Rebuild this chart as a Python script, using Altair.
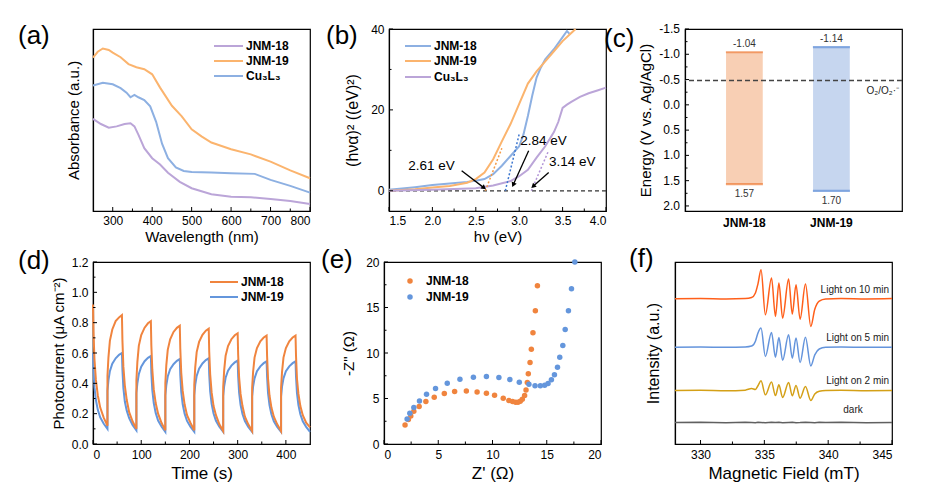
import altair as alt
import pandas as pd

FONT = "Liberation Sans"
W, H = 217, 182
ONE = pd.DataFrame({"k": [0]})

# ---------------- (a) UV-vis absorbance ----------------
a18_wl = [250, 270, 290, 310, 330, 345, 355, 365, 380, 400, 420, 440, 470, 500, 550, 600, 650, 700, 750, 800]
a18_v = [0.506, 0.478, 0.458, 0.465, 0.478, 0.482, 0.465, 0.42, 0.345, 0.29, 0.255, 0.21, 0.16, 0.125, 0.092, 0.078, 0.075, 0.066, 0.055, 0.039]
a19_wl = [250, 262, 275, 290, 300, 320, 340, 360, 380, 400, 420, 450, 475, 500, 525, 550, 600, 650, 700, 750, 800]
a19_v = [0.843, 0.875, 0.893, 0.885, 0.87, 0.845, 0.807, 0.79, 0.779, 0.751, 0.678, 0.578, 0.52, 0.449, 0.41, 0.376, 0.339, 0.311, 0.271, 0.223, 0.18]
acu_wl = [250, 275, 300, 320, 335, 345, 355, 365, 380, 395, 410, 425, 440, 460, 480, 500, 550, 600, 660, 700, 750, 800]
acu_v = [0.69, 0.705, 0.696, 0.675, 0.65, 0.625, 0.638, 0.625, 0.61, 0.575, 0.49, 0.37, 0.29, 0.24, 0.22, 0.214, 0.211, 0.208, 0.204, 0.171, 0.138, 0.101]
a_major = [300, 400, 500, 600, 700, 800]
a_minor = [350, 450, 550, 650, 750]

# ---------------- (b) Tauc plot ----------------
b18_ev = [1.5, 1.8, 2.0, 2.2, 2.4, 2.5, 2.6, 2.7, 2.8, 2.9, 3.0, 3.05, 3.1, 3.15, 3.2, 3.25, 3.3, 3.4, 3.5, 3.55, 3.58]
b18_v = [0.25, 0.9, 1.4, 1.8, 2.2, 2.5, 2.9, 4.1, 6.2, 8.6, 11.0, 14.0, 18.5, 23.5, 28.0, 30.5, 32.5, 35.0, 38.0, 39.5, 38.8]
b19_ev = [1.5, 1.8, 2.0, 2.2, 2.4, 2.5, 2.6, 2.7, 2.8, 2.9, 3.0, 3.1, 3.2, 3.3, 3.4, 3.5, 3.6, 3.65]
b19_v = [0.0, 0.4, 0.8, 1.2, 2.0, 2.9, 4.5, 7.8, 12.2, 16.5, 21.5, 26.5, 29.5, 32.0, 34.5, 37.0, 39.0, 40.0]
bcu_ev = [1.5, 2.0, 2.5, 2.7, 2.9, 3.0, 3.1, 3.2, 3.3, 3.4, 3.45, 3.5, 3.55, 3.6, 3.7, 3.8, 3.9, 4.0]
bcu_v = [0.0, 0.25, 0.6, 1.3, 2.4, 3.6, 5.2, 8.2, 11.0, 14.5, 17.0, 20.5, 21.3, 22.0, 23.2, 24.1, 24.8, 25.5]
gaps = [2.61, 2.84, 3.14]
b_xmajor = [1.5, 2.0, 2.5, 3.0, 3.5, 4.0]
b_xminor = [1.75, 2.25, 2.75, 3.25, 3.75]
b_ymajor = [0, 20, 40]
b_yminor = [10, 30]

# ---------------- (c) band positions ----------------
samples = ["JNM-18", "JNM-19"]
cb = [-1.04, -1.14]
vb = [1.57, 1.70]
o2_level = -0.48
c_ymajor = [-1.5, -1.0, -0.5, 0.0, 0.5, 1.0, 1.5, 2.0]
c_yminor = [-1.25, -0.75, -0.25, 0.25, 0.75, 1.25, 1.75]

# ---------------- (d) photocurrent ----------------
time_d = [
    0, 1, 3, 6, 10, 15, 22, 30, 30, 32, 35, 40, 47, 54,
    60, 61, 63, 66, 70, 75, 82, 90, 90, 92, 95, 100, 107, 114,
    120, 121, 123, 126, 130, 135, 142, 150, 150, 152, 155, 160, 167, 174,
    180, 181, 183, 186, 190, 195, 202, 210, 210, 212, 215, 220, 227, 234,
    240, 241, 243, 246, 250, 255, 262, 270, 270, 272, 275, 280, 287, 294,
    300, 301, 303, 306, 310, 315, 322, 330, 330, 332, 335, 340, 347, 354,
    360, 361, 363, 366, 370, 375, 382, 390, 390, 392, 395, 400, 407, 414,
    420, 421, 423, 426, 430, 435, 442, 450]
cur18 = [
    0.92, 0.744, 0.56, 0.424, 0.32, 0.24, 0.176, 0.12, 0.45, 0.57, 0.68, 0.755, 0.81, 0.835,
    0.85, 0.685, 0.51, 0.385, 0.29, 0.21, 0.15, 0.10, 0.42, 0.54, 0.647, 0.718, 0.767, 0.796,
    0.81, 0.65, 0.49, 0.36, 0.27, 0.20, 0.14, 0.09, 0.40, 0.518, 0.621, 0.69, 0.739, 0.766,
    0.78, 0.63, 0.47, 0.35, 0.26, 0.19, 0.14, 0.09, 0.39, 0.505, 0.606, 0.673, 0.72, 0.747,
    0.76, 0.61, 0.46, 0.34, 0.25, 0.19, 0.13, 0.085, 0.375, 0.485, 0.582, 0.646, 0.691, 0.717,
    0.73, 0.59, 0.44, 0.33, 0.25, 0.18, 0.13, 0.085, 0.37, 0.475, 0.57, 0.633, 0.677, 0.702,
    0.715, 0.58, 0.43, 0.32, 0.24, 0.18, 0.13, 0.085, 0.37, 0.475, 0.57, 0.633, 0.677, 0.702,
    0.715, 0.58, 0.43, 0.33, 0.25, 0.19, 0.14, 0.11]
cur19 = [
    0.60, 0.49, 0.375, 0.29, 0.225, 0.175, 0.135, 0.10, 0.35, 0.42, 0.48, 0.53, 0.565, 0.588,
    0.60, 0.49, 0.37, 0.28, 0.22, 0.17, 0.125, 0.09, 0.335, 0.40, 0.46, 0.51, 0.546, 0.568,
    0.58, 0.47, 0.355, 0.27, 0.205, 0.155, 0.115, 0.08, 0.32, 0.387, 0.445, 0.493, 0.526, 0.548,
    0.56, 0.454, 0.344, 0.262, 0.20, 0.152, 0.114, 0.08, 0.32, 0.39, 0.449, 0.497, 0.531, 0.553,
    0.565, 0.458, 0.347, 0.264, 0.201, 0.153, 0.114, 0.08, 0.315, 0.381, 0.437, 0.484, 0.517, 0.538,
    0.55, 0.447, 0.339, 0.259, 0.198, 0.151, 0.113, 0.08, 0.313, 0.378, 0.433, 0.48, 0.512, 0.533,
    0.545, 0.443, 0.336, 0.257, 0.196, 0.15, 0.113, 0.08, 0.313, 0.378, 0.433, 0.48, 0.512, 0.533,
    0.545, 0.443, 0.336, 0.257, 0.196, 0.15, 0.113, 0.08]
d_xmajor = [0, 100, 200, 300, 400]
d_xminor = [50, 150, 250, 350]
d_ymajor = [0.0, 0.2, 0.4, 0.6, 0.8, 1.0, 1.2]
d_yminor = [0.1, 0.3, 0.5, 0.7, 0.9, 1.1]

# ---------------- (e) Nyquist ----------------
z18_re = [1.94, 2.25, 2.47, 2.75, 3.24, 3.86, 4.63, 5.56, 6.51, 7.59, 8.58, 9.44, 10.19, 10.99, 11.51, 11.85, 12.13, 12.35, 12.56, 12.75, 12.96, 13.09, 13.21, 13.30, 13.46, 13.58, 13.73, 13.95, 14.14]
z18_im = [2.09, 2.7, 3.08, 3.6, 4.11, 4.66, 5.14, 5.54, 5.76, 5.83, 5.72, 5.58, 5.36, 5.03, 4.77, 4.66, 4.59, 4.59, 4.70, 4.92, 5.32, 5.94, 6.75, 7.71, 8.95, 10.42, 12.22, 14.64, 17.39]
z19_re = [2.13, 2.38, 2.75, 3.27, 3.92, 4.75, 5.83, 7.0, 8.24, 9.44, 10.59, 11.6, 12.47, 13.36, 13.92, 14.41, 14.81, 15.12, 15.43, 15.71, 15.99, 16.2, 16.48, 16.7, 17.0, 17.28, 17.59]
z19_im = [2.75, 3.38, 4.0, 4.73, 5.47, 6.09, 6.68, 7.12, 7.34, 7.41, 7.30, 7.08, 6.79, 6.57, 6.39, 6.39, 6.46, 6.64, 7.05, 7.60, 8.44, 9.54, 10.83, 12.59, 14.64, 17.06, 20.0]
e_major = [0, 5, 10, 15, 20]
e_minor = [2.5, 7.5, 12.5, 17.5]

# ---------------- (f) EPR ----------------
epr_x = [328, 330, 332, 333.5, 334.0, 334.3, 334.5, 334.74, 335.08, 335.56, 335.87, 336.14, 336.43, 336.9, 337.19, 337.48, 337.8, 338.22, 338.64, 338.95, 339.3, 339.8, 341, 343, 345]
epr10 = [0.798, 0.799, 0.797, 0.799, 0.805, 0.83, 0.88, 0.958, 0.710, 0.912, 0.701, 0.884, 0.692, 0.906, 0.714, 0.875, 0.686, 0.879, 0.646, 0.74, 0.785, 0.797, 0.799, 0.797, 0.799]
epr5 = [0.532, 0.533, 0.531, 0.533, 0.538, 0.565, 0.61, 0.637, 0.481, 0.613, 0.477, 0.585, 0.460, 0.600, 0.471, 0.582, 0.448, 0.587, 0.429, 0.49, 0.522, 0.531, 0.533, 0.531, 0.532]
epr2 = [0.294, 0.295, 0.293, 0.296, 0.305, 0.30, 0.32, 0.347, 0.270, 0.340, 0.266, 0.325, 0.255, 0.338, 0.265, 0.322, 0.252, 0.316, 0.239, 0.275, 0.29, 0.294, 0.295, 0.293, 0.294]
eprd = [0.118, 0.120, 0.117, 0.119, 0.118, 0.117, 0.119, 0.118, 0.117, 0.119, 0.118, 0.12, 0.117, 0.118, 0.119, 0.117, 0.118, 0.12, 0.118, 0.117, 0.119, 0.118, 0.12, 0.117, 0.118]
epr_labels = ["Light on 10 min", "Light on 5 min", "Light on 2 min", "dark"]
epr_label_y = [0.848, 0.582, 0.348, 0.185]
f_major = [330, 335, 340, 345]
f_minor = [332.5, 337.5, 342.5]

# colours
PURPLE_L, ORANGE_L, BLUE_L = "#bba5d8", "#fbb46e", "#8db0e2"
ORANGE, BLUE = "#f0843e", "#6496dc"


def txt(s, x, y, size=12, weight="normal", align="left", baseline="middle", color="black"):
    return alt.Chart(ONE).mark_text(text=s, fontSize=size, fontWeight=weight, align=align,
                                    baseline=baseline, color=color, font=FONT).encode(
        x=alt.value(x), y=alt.value(y))


def lrule(x1, x2, y, color, width=2.0):
    return alt.Chart(ONE).mark_rule(color=color, strokeWidth=width).encode(
        x=alt.value(x1), x2=alt.value(x2), y=alt.value(y))


def ldot(x, y, color, size=30):
    return alt.Chart(ONE).mark_circle(color=color, size=size, opacity=1).encode(
        x=alt.value(x), y=alt.value(y))


def letter(s, x, y):
    return txt(s, x, y, size=26)


def line(xs, ys, X, Y, color, width=2.0, dash=None, interp=None, ordered=False):
    df = pd.DataFrame({"x": xs, "y": ys, "i": list(range(len(xs)))})
    kw = dict(color=color, strokeWidth=width)
    if dash:
        kw["strokeDash"] = dash
    if interp:
        kw["interpolate"] = interp
    enc = dict(x=X, y=Y)
    if ordered:
        enc["order"] = alt.Order("i:Q")
    return alt.Chart(df).mark_line(**kw).encode(**enc)


def xticks(vals, X, length):
    field = X.shorthand.split(":")[0]
    return alt.Chart(pd.DataFrame({field: vals})).mark_rule(color="black", strokeWidth=1).encode(
        x=X, y=alt.value(H), y2=alt.value(H - length))


def yticks(vals, Y, length):
    field = Y.shorthand.split(":")[0]
    return alt.Chart(pd.DataFrame({field: vals})).mark_rule(color="black", strokeWidth=1).encode(
        y=Y, x=alt.value(0), x2=alt.value(length))


MAJ, MIN = 4, 2.5
XT1 = 15    # x title size, top row
XT2 = 17    # x title size, bottom row
YT = 15     # y title size

# ---------- panel (a) ----------
Xa = alt.X("x:Q", scale=alt.Scale(domain=[250, 800], nice=False),
           axis=alt.Axis(title="Wavelength (nm)", values=a_major, format="d", labelPadding=4,
                         titleFontSize=XT1, titlePadding=3))
Ya = alt.Y("y:Q", scale=alt.Scale(domain=[0, 1], nice=False),
           axis=alt.Axis(title="Absorbance (a.u.)", labels=False, titleFontSize=YT, titlePadding=12))
pa = alt.layer(
    line(a18_wl, a18_v, Xa, Ya, PURPLE_L),
    line(a19_wl, a19_v, Xa, Ya, ORANGE_L),
    line(acu_wl, acu_v, Xa, Ya, BLUE_L),
    xticks(a_major, Xa, MAJ), xticks(a_minor, Xa, MIN),
    lrule(121, 150, 17, PURPLE_L), txt("JNM-18", 153, 17, weight="bold"),
    lrule(121, 150, 32, ORANGE_L), txt("JNM-19", 153, 32, weight="bold"),
    lrule(121, 150, 47, BLUE_L), txt("Cu₃L₃", 153, 47, weight="bold"),
    letter("(a)", -75, 7),
).properties(width=W, height=H)

# ---------- panel (b) ----------
Xb = alt.X("x:Q", scale=alt.Scale(domain=[1.5, 4.0], nice=False),
           axis=alt.Axis(title="hν (eV)", values=b_xmajor, format=".1f", labelPadding=4,
                         titleFontSize=XT1, titlePadding=3))
Yb = alt.Y("y:Q", scale=alt.Scale(domain=[-5, 40], nice=False),
           axis=alt.Axis(title="(hνα)² ((eV)²)", values=b_ymajor, format="d", titleFontSize=16, titlePadding=10))
arrows = pd.DataFrame({
    "x": [2.337, 3.109, 3.34], "y": [4.94, 9.88, 4.54],
    "x2": [2.588, 2.935, 3.167], "y2": [0.84, 1.65, 1.23],
    "a": [127.4, 204.2, 228.2]})
gap_txt = pd.DataFrame({"x": [1.99, 3.28, 3.61], "y": [6.2, 12.3, 7.0],
                        "t": [f"{g:.2f} eV" for g in gaps]})
pb = alt.layer(
    alt.Chart(ONE).mark_rule(color="#333333", strokeDash=[4, 3], strokeWidth=1.3).encode(y=alt.datum(0)),
    line(b18_ev, b18_v, Xb, Yb, BLUE_L),
    line(b19_ev, b19_v, Xb, Yb, ORANGE_L),
    line(bcu_ev, bcu_v, Xb, Yb, PURPLE_L),
    line([gaps[0], 2.80], [0, 10.5], Xb, Yb, "#f59a45", width=1.5, dash=[2, 2]),
    line([gaps[1], 3.00], [0, 14.0], Xb, Yb, "#3f78d0", width=1.5, dash=[2, 2]),
    line([gaps[2], 3.34], [0, 10.0], Xb, Yb, "#b193d6", width=1.5, dash=[2, 2]),
    alt.Chart(arrows).mark_rule(color="black", strokeWidth=1.3).encode(
        x=Xb, y=Yb, x2="x2:Q", y2="y2:Q"),
    alt.Chart(arrows).mark_point(shape="triangle", filled=True, size=30, color="black", opacity=1).encode(
        x=alt.X("x2:Q", scale=alt.Scale(domain=[1.5, 4.0], nice=False)),
        y=alt.Y("y2:Q", scale=alt.Scale(domain=[-5, 40], nice=False)),
        angle=alt.Angle("a:Q", scale=None)),
    alt.Chart(gap_txt).mark_text(fontSize=13.5, font=FONT, color="black").encode(x=Xb, y=Yb, text="t:N"),
    xticks(b_xmajor, Xb, MAJ), xticks(b_xminor, Xb, MIN),
    yticks(b_ymajor, Yb, MAJ), yticks(b_yminor, Yb, MIN),
    lrule(16, 42, 17, BLUE_L), txt("JNM-18", 45, 17, weight="bold"),
    lrule(16, 42, 32, ORANGE_L), txt("JNM-19", 45, 32, weight="bold"),
    lrule(16, 42, 48, PURPLE_L), txt("Cu₃L₃", 45, 48, weight="bold"),
    letter("(b)", -63, 7),
).properties(width=W, height=H)

# ---------- panel (c) ----------
Xc = alt.X("s:N", sort=samples, scale=alt.Scale(paddingInner=0.578, paddingOuter=0.536, align=0.44),
           axis=alt.Axis(title=None, labelAngle=0, labelFontWeight="bold", labelPadding=6))
Yc = alt.Y("e:Q", scale=alt.Scale(domain=[-1.5, 2.1], reverse=True, nice=False),
           axis=alt.Axis(title="Energy (V vs. Ag/AgCl)", labels=False, titleFontSize=YT, titlePadding=32))
bars = pd.DataFrame({"s": samples, "e": cb, "e2": vb})
edges = pd.DataFrame({"s": samples * 2, "e": cb + vb,
                      "lab": [f"{v:.2f}" for v in cb + vb],
                      "dy": [-8, -8, 10, 10]})
c_lab = pd.DataFrame({"e": c_ymajor, "lab": [f"{v:.1f}" for v in c_ymajor]})
fill_scale = alt.Scale(domain=samples, range=["#f8ccb0", "#c3d4ee"])
edge_scale = alt.Scale(domain=samples, range=["#ee7d3b", "#5b8bd5"])
pc = alt.layer(
    alt.Chart(bars).mark_bar(opacity=0.95).encode(
        x=Xc, y=Yc, y2="e2:Q", fill=alt.Fill("s:N", scale=fill_scale, legend=None)),
    alt.Chart(edges).mark_tick(orient="horizontal", thickness=2.2, size=37).encode(
        x=Xc, y=Yc, color=alt.Color("s:N", scale=edge_scale, legend=None)),
    alt.Chart(edges[edges["dy"] < 0]).mark_text(fontSize=10, font=FONT, color="#333333", dy=-8).encode(
        x=Xc, y=Yc, text="lab:N"),
    alt.Chart(edges[edges["dy"] > 0]).mark_text(fontSize=10, font=FONT, color="#333333", dy=10).encode(
        x=Xc, y=Yc, text="lab:N"),
    alt.Chart(ONE).mark_rule(color="#444444", strokeDash=[5, 3], strokeWidth=1.6).encode(y=alt.datum(o2_level)),
    alt.Chart(ONE).mark_text(text="O₂/O₂·⁻", fontSize=10, font=FONT, color="#222222", align="right", dy=10).encode(
        x=alt.value(W - 3), y=alt.datum(o2_level)),
    yticks(c_ymajor, Yc, MAJ), yticks(c_yminor, Yc, MIN),
    alt.Chart(c_lab).mark_text(fontSize=12, font=FONT, color="black", align="right", baseline="middle").encode(
        x=alt.value(-5), y=Yc, text="lab:N"),
    letter("(c)", -81, 10),
).resolve_scale(fill="independent", color="independent").properties(width=W, height=H)

# ---------- panel (d) ----------
Xd = alt.X("x:Q", scale=alt.Scale(domain=[0, 450], nice=False),
           axis=alt.Axis(title="Time  (s)", values=d_xmajor, format="d",
                         titleFontSize=XT2, titlePadding=5))
Yd = alt.Y("y:Q", scale=alt.Scale(domain=[0, 1.2], nice=False),
           axis=alt.Axis(title="Photocurrent (μA cm⁻²)", values=d_ymajor, format=".1f",
                         titleFontSize=YT, titlePadding=5))
pd_ = alt.layer(
    line(time_d, cur19, Xd, Yd, BLUE, ordered=True),
    line(time_d, cur18, Xd, Yd, ORANGE, ordered=True),
    xticks(d_xmajor, Xd, MAJ), xticks(d_xminor, Xd, MIN),
    yticks(d_ymajor, Yd, MAJ), yticks(d_yminor, Yd, MIN),
    lrule(117, 145, 20, ORANGE), txt("JNM-18", 148, 20, weight="bold"),
    lrule(117, 145, 35, BLUE), txt("JNM-19", 148, 35, weight="bold"),
    letter("(d)", -75, -1),
).properties(width=W, height=H)

# ---------- panel (e) ----------
Xe = alt.X("x:Q", scale=alt.Scale(domain=[0, 20], nice=False),
           axis=alt.Axis(title="Z' (Ω)", values=e_major, format="d",
                         titleFontSize=XT2, titlePadding=5))
Ye = alt.Y("y:Q", scale=alt.Scale(domain=[0, 20], nice=False),
           axis=alt.Axis(title='-Z" (Ω)', values=e_major, format="d", titleFontSize=YT, titlePadding=9))
pe = alt.layer(
    alt.Chart(pd.DataFrame({"x": z18_re, "y": z18_im})).mark_circle(color=ORANGE, size=30, opacity=1).encode(x=Xe, y=Ye),
    alt.Chart(pd.DataFrame({"x": z19_re, "y": z19_im})).mark_circle(color=BLUE, size=30, opacity=1).encode(x=Xe, y=Ye),
    xticks(e_major, Xe, MAJ), xticks(e_minor, Xe, MIN),
    yticks(e_major, Ye, MAJ), yticks(e_minor, Ye, MIN),
    ldot(26, 19, ORANGE), txt("JNM-18", 42, 19, weight="bold"),
    ldot(26, 35, BLUE), txt("JNM-19", 42, 35, weight="bold"),
    letter("(e)", -63, -2),
).properties(width=W, height=H)

# ---------- panel (f) ----------
Xf = alt.X("x:Q", scale=alt.Scale(domain=[328, 345], nice=False),
           axis=alt.Axis(title="Magnetic Field (mT)", values=f_major, format="d",
                         titleFontSize=XT2, titlePadding=5))
Yf = alt.Y("y:Q", scale=alt.Scale(domain=[0, 1], nice=False),
           axis=alt.Axis(title="Intensity (a.u.)", labels=False, titleFontSize=16, titlePadding=14))
flab = pd.DataFrame({"y": epr_label_y[:3], "t": epr_labels[:3]})
pf = alt.layer(
    line(epr_x, eprd, Xf, Yf, "#606060", width=1.5),
    line(epr_x, epr2, Xf, Yf, "#d4a017", width=1.5, interp="monotone"),
    line(epr_x, epr5, Xf, Yf, "#6494dc", width=1.5, interp="monotone"),
    line(epr_x, epr10, Xf, Yf, "#ff5f1a", width=1.5, interp="monotone"),
    xticks(f_major, Xf, MAJ), xticks(f_minor, Xf, MIN),
    alt.Chart(flab).mark_text(fontSize=10, font=FONT, color="#222222", align="right").encode(
        x=alt.value(W - 3), y=alt.Y("y:Q", scale=alt.Scale(domain=[0, 1], nice=False)), text="t:N"),
    alt.Chart(pd.DataFrame({"y": [epr_label_y[3]], "t": [epr_labels[3]]})).mark_text(
        fontSize=10, font=FONT, color="#222222", align="center").encode(
        x=alt.value(178), y=alt.Y("y:Q", scale=alt.Scale(domain=[0, 1], nice=False)), text="t:N"),
    letter("(f)", -46, -3),
).properties(width=W, height=H)

top = alt.hconcat(pa, pb, pc, spacing=79, bounds="flush")
bottom = alt.hconcat(pd_, pe, pf, spacing=74, bounds="flush")

chart = alt.vconcat(top, bottom, spacing=0).properties(
    padding={"left": 9, "top": 14, "right": 5, "bottom": 5},
    background="white",
).configure_axis(
    labelFont=FONT, titleFont=FONT, labelFontSize=12, titleFontWeight="normal",
    labelColor="black", titleColor="black", domainColor="black",
    grid=False, ticks=False, labelPadding=5, domainWidth=1.2,
).configure_view(stroke="black", strokeWidth=1.2)

chart.save("out.html", embed_options={"renderer": "svg", "actions": False})
